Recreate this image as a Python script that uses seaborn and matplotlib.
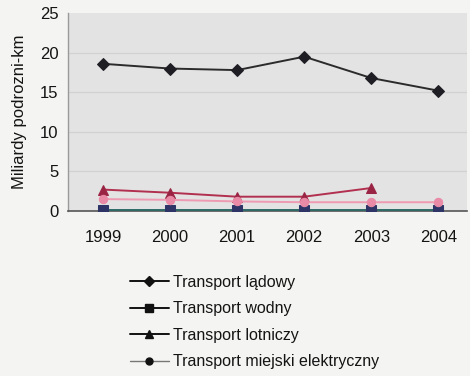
import matplotlib
matplotlib.use("Agg")
import matplotlib.pyplot as plt
from matplotlib.lines import Line2D
import numpy as np
import pandas as pd
import seaborn as sns

years = ["1999", "2000", "2001", "2002", "2003", "2004"]
ladowy = [18.6, 18.0, 17.8, 19.5, 16.8, 15.2]
wodny = [0.1, 0.1, 0.1, 0.1, 0.1, 0.1]
lotniczy = [2.7, 2.3, 1.8, 1.8, 2.9, np.nan]
elektryczny = [1.5, 1.4, 1.2, 1.1, 1.1, 1.1]

series_names = ["Transport lądowy", "Transport wodny", "Transport lotniczy",
                "Transport miejski elektryczny"]
series_values = [ladowy, wodny, lotniczy, elektryczny]

sns.set_theme(style="white")
plt.rcParams["font.family"] = ["Liberation Sans", "DejaVu Sans"]

fig = plt.figure(figsize=(4.7, 3.76), dpi=100)
fig.patch.set_facecolor("#f4f4f2")
ax = fig.add_axes([0.145, 0.439, 0.849, 0.526])
ax.set_facecolor("#e3e3e3")

line_colors = ["#2b2b2b", "#2f6a66", "#b2304f", "#ee9ab2"]
marker_colors = ["#1e1e24", "#2e3566", "#9a2444", "#e98aa6"]
markers = ["D", "s", "^", "o"]
msizes = [6, 7, 7, 6]

for gy in [5, 10, 15, 20]:
    ax.axhline(gy, color="#d2d2d2", lw=0.9, zorder=0)

x = np.arange(len(years))
for name, vals, lc, mc, mk, ms in zip(series_names, series_values, line_colors,
                                        marker_colors, markers, msizes):
    df = pd.DataFrame({"x": x, "y": vals}).dropna()
    sns.lineplot(data=df, x="x", y="y", ax=ax, color=lc, lw=1.4,
                 marker=mk, markersize=ms, markerfacecolor=mc,
                 markeredgecolor=mc, legend=False, zorder=3)

ax.set_xlim(-0.52, 5.43)
ax.set_ylim(0, 25)
ax.set_yticks([0, 5, 10, 15, 20, 25])
ax.set_xticks(x)
ax.set_xticklabels(years)
ax.tick_params(axis="both", length=0, labelsize=12, colors="#141414")
ax.tick_params(axis="y", pad=7)
ax.tick_params(axis="x", pad=14)
ax.set_xlabel("")
ax.set_ylabel("Miliardy podrozni-km", fontsize=12, color="#141414", labelpad=9)

for side in ["top", "right"]:
    ax.spines[side].set_visible(False)
ax.spines["left"].set_color("#9a9a9a")
ax.spines["left"].set_linewidth(1.0)
ax.spines["bottom"].set_color("#555555")
ax.spines["bottom"].set_linewidth(1.2)

handles = [
    Line2D([], [], color="#111111", lw=1.4, marker="D", markersize=5),
    Line2D([], [], color="#111111", lw=1.4, marker="s", markersize=6),
    Line2D([], [], color="#111111", lw=1.4, marker="^", markersize=6),
    Line2D([], [], color="#777777", lw=1.0, marker="o", markersize=5,
           markerfacecolor="#111111", markeredgecolor="#111111"),
]
leg = fig.legend(handles, series_names, loc="upper left",
                 bbox_to_anchor=(0.26, 0.29), frameon=False, fontsize=11.5,
                 handlelength=2.4, handletextpad=0.3, labelspacing=0.72,
                 borderpad=0)
for t in leg.get_texts():
    t.set_color("#141414")

fig.savefig("out.png", dpi=100, facecolor=fig.get_facecolor())
